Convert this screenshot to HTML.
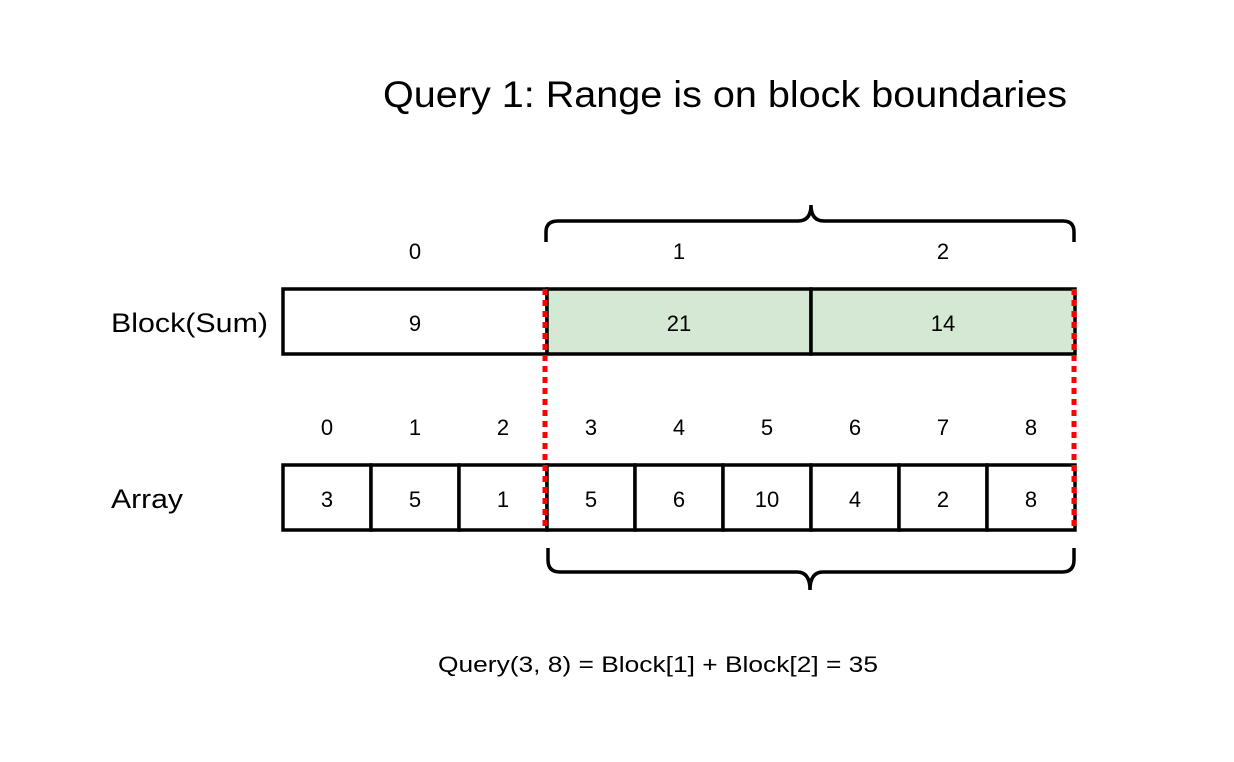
<!DOCTYPE html>
<html><head><meta charset="utf-8"><style>
body{margin:0;background:#fff;}
svg{display:block;font-family:"Liberation Sans",Arial,sans-serif;}
</style></head><body>
<svg width="1234" height="762" viewBox="0 0 1234 762">
<text x="383" y="107" font-size="37" textLength="684" lengthAdjust="spacingAndGlyphs">Query 1: Range is on block boundaries</text>
<text x="111" y="332" font-size="27" textLength="157" lengthAdjust="spacingAndGlyphs">Block(Sum)</text>
<text x="111" y="508" font-size="27" textLength="72" lengthAdjust="spacingAndGlyphs">Array</text>
<g id="blocks"></g>
<g id="arr"></g>
<path d="M546,242 V232 Q546,221 558,221 H798 Q811,221 811,205 Q811,221 824,221 H1063 Q1074,221 1074,232 V242" fill="none" stroke="#000" stroke-width="3.5"/>
<path d="M548,548 V560 Q548,572 560,572 H797 Q810,572 810,590 Q810,572 823,572 H1062 Q1074,572 1074,560 V548" fill="none" stroke="#000" stroke-width="3.5"/>
<line x1="545" y1="289" x2="545" y2="531" stroke="#f00" stroke-width="5" stroke-dasharray="6,5"/>
<line x1="1074" y1="289" x2="1074" y2="531" stroke="#f00" stroke-width="5" stroke-dasharray="6,5"/>
<text x="438" y="672" font-size="22" textLength="440" lengthAdjust="spacingAndGlyphs">Query(3, 8) = Block[1] + Block[2] = 35</text>
</svg>
<script>
const blockSums=[9,21,14];
const blockHighlighted=[false,true,true];
const arrayValues=[3,5,1,5,6,10,4,2,8];
const NS="http://www.w3.org/2000/svg";
function mk(tag,attrs,parent){const e=document.createElementNS(NS,tag);for(const k in attrs)e.setAttribute(k,attrs[k]);parent.appendChild(e);return e;}
const bg=document.getElementById('blocks'),ag=document.getElementById('arr');
const x0=283,x1=1075;
const bw=(x1-x0)/blockSums.length;
blockSums.forEach((v,i)=>{
  const x=x0+i*bw;
  const r=mk('rect',{x:x,y:289,width:bw,height:65,fill:blockHighlighted[i]?'#d5e8d4':'#fff',stroke:'#000','stroke-width':3.5},bg);
  
  
  const t=mk('text',{x:x+bw/2,y:331,'font-size':22,'text-anchor':'middle'},bg);t.textContent=v;
  
  
  const l=mk('text',{x:x+bw/2,y:259,'font-size':22,'text-anchor':'middle'},bg);l.textContent=i;
  
  
});
const aw=(x1-x0)/arrayValues.length;
arrayValues.forEach((v,i)=>{
  const x=x0+i*aw;
  const r=mk('rect',{x:x,y:465,width:aw,height:65,fill:'#fff',stroke:'#000','stroke-width':3.5},ag);
  
  
  const t=mk('text',{x:x+aw/2,y:507,'font-size':22,'text-anchor':'middle'},ag);t.textContent=v;
  
  
  const l=mk('text',{x:x+aw/2,y:435,'font-size':22,'text-anchor':'middle'},ag);l.textContent=i;
  
  
});
</script>
</body></html>
